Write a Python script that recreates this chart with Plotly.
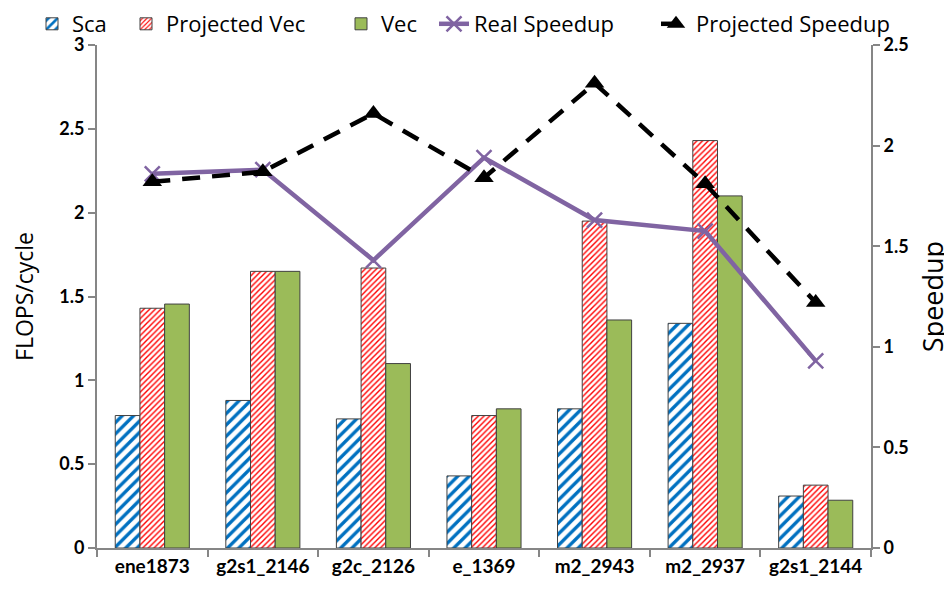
import plotly.graph_objects as go

categories = ["ene1873", "g2s1_2146", "g2c_2126", "e_1369", "m2_2943", "m2_2937", "g2s1_2144"]
sca = [0.79, 0.88, 0.77, 0.43, 0.83, 1.34, 0.31]
proj_vec = [1.43, 1.65, 1.67, 0.79, 1.95, 2.43, 0.375]
vec = [1.455, 1.65, 1.10, 0.83, 1.36, 2.10, 0.285]
real_speedup = [1.86, 1.88, 1.43, 1.94, 1.63, 1.575, 0.93]
proj_speedup = [1.82, 1.87, 2.16, 1.84, 2.31, 1.81, 1.22]
left_ticks = [0, 0.5, 1, 1.5, 2, 2.5, 3]
left_tick_text = ["0", "0.5", "1", "1.5", "2", "2.5", "3"]
right_ticks = [0, 0.5, 1, 1.5, 2, 2.5]
right_tick_text = ["0", "0.5", "1", "1.5", "2", "2.5"]

FONT = "Lato"
TFONT = "Open Sans"
border = dict(color="#404040", width=1)
W, H = 944, 586

fig = go.Figure()
fig.add_trace(go.Bar(
    x=categories, y=sca, name="Sca", legend="legend", showlegend=True,
    marker=dict(color="white", line=border,
                pattern=dict(shape="/", fgcolor="#0070C0", bgcolor="white", fgopacity=1,
                             size=8, solidity=0.42)),
))
fig.add_trace(go.Bar(
    x=categories, y=proj_vec, name="Projected Vec", legend="legend2", showlegend=True,
    marker=dict(color="white", line=border,
                pattern=dict(shape="/", fgcolor="#FF0000", bgcolor="white", fgopacity=1,
                             size=4, solidity=0.35)),
))
fig.add_trace(go.Bar(
    x=categories, y=vec, name="Vec", legend="legend3", showlegend=True,
    marker=dict(color="#9BBB59", line=border),
))
fig.add_trace(go.Scatter(
    x=categories, y=real_speedup, name="Real Speedup", yaxis="y2", legend="legend4",
    showlegend=True, mode="lines+markers",
    line=dict(color="#8064A2", width=4.5),
    marker=dict(symbol="x-thin", size=15, line=dict(color="#8064A2", width=2.5)),
))
fig.add_trace(go.Scatter(
    x=categories, y=proj_speedup, name="Projected Speedup", yaxis="y2", legend="legend5",
    showlegend=True, mode="lines+markers",
    line=dict(color="black", width=4.5, dash="18px,12px"),
    marker=dict(symbol="triangle-up", size=17, color="black"),
))

axis_line = dict(showline=True, linecolor="#868686", linewidth=2, ticks="outside",
                 tickcolor="#868686", ticklen=7, tickwidth=2, showgrid=False, zeroline=False)


def leg(px_left):
    return dict(orientation="h", xref="container", yref="container", visible=True,
                x=px_left / W, y=1 - 16 / H, xanchor="left", yanchor="middle",
                font=dict(family=TFONT, size=22), itemwidth=30,
                bgcolor="rgba(0,0,0,0)", borderwidth=0)


# page body has an 8px default margin, so the figure is sized 944x586
fig.update_layout(
    width=W, height=H,
    showlegend=True,
    margin=dict(l=89, r=81, t=37, b=46, autoexpand=False),
    paper_bgcolor="white", plot_bgcolor="white",
    font=dict(family=FONT, color="black"),
    barmode="group", bargap=0.33, bargroupgap=0,
    xaxis=dict(**axis_line, tickson="boundaries",
               tickfont=dict(family=FONT, size=19, color="black", weight="bold")),
    yaxis=dict(**axis_line, range=[0, 3], tickvals=left_ticks, ticktext=left_tick_text,
               tickfont=dict(family=FONT, size=18, color="black", weight="bold"),
               title=dict(text="FLOPS/cycle", font=dict(family=TFONT, size=23), standoff=22)),
    yaxis2=dict(**axis_line, overlaying="y", side="right", range=[0, 2.5],
                tickvals=right_ticks, ticktext=right_tick_text,
                tickfont=dict(family=FONT, size=18, color="black", weight="bold"),
                title=dict(text="Speedup", font=dict(family=TFONT, size=27), standoff=16)),
    legend=leg(24),
    legend2=leg(118),
    legend3=leg(333),
    legend4=leg(426),
    legend5=leg(648),
)

fig.write_html("out.html")
